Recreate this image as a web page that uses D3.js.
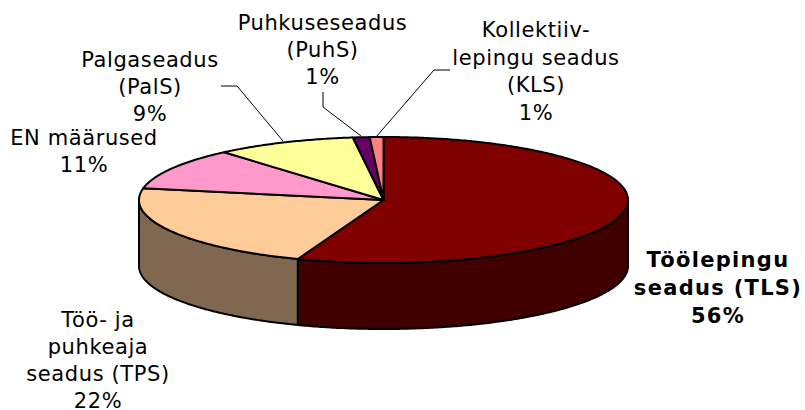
<!DOCTYPE html>
<html><head><meta charset="utf-8">
<script src="https://cdn.jsdelivr.net/npm/d3@7"></script>
<style>html,body{margin:0;padding:0;background:#fff}svg{display:block}text{font-family:"DejaVu Sans",sans-serif;font-size:21px;letter-spacing:.6px;fill:#000}</style>
</head><body><div id="c"></div>
<script>
const categories=["Töölepingu seadus (TLS)","Töö- ja puhkeaja seadus (TPS)","EN määrused","Palgaseadus (PalS)","Puhkuseseadus (PuhS)","Kollektiiv-lepingu seadus (KLS)"];
const values=[55.7,22.3,10.7,9.3,1.1,0.9];
const topColors=["#800000","#FFCC99","#FF99CC","#FFFF99","#660066","#FF8080"];
const sideColors=["#400000","#806850","#804C66","#80804C","#330033","#804040"];
const labelLines=[["Töölepingu","seadus (TLS)","56%"],["Töö- ja","puhkeaja","seadus (TPS)","22%"],["EN määrused","11%"],["Palgaseadus","(PalS)","9%"],["Puhkuseseadus","(PuhS)","1%"],["Kollektiiv-","lepingu seadus","(KLS)","1%"]];
const labelAnchors=[[718,267],[98,327],[84,145],[150,67],[322.5,30],[536,37]];
const lineSteps=[28,27,27,27,27,27.5];
const leaders=[null,null,null,[[221,86],[237,86],[283,141]],[[323,92],[323,107],[361,136]],[[450,70],[434,70],[376,137]]];
const W=805,H=410,depth=66;
const x=d3.scaleLinear().domain([-1,1]).range([139,628]);
const y=d3.scaleLinear().domain([-1,1]).range([137,263]);
const svg=d3.select("#c").append("svg").attr("width",W).attr("height",H);
const arcs=d3.pie().sort(null)(values);
const pt=(a,dy=0)=>[x(Math.sin(a)),y(-Math.cos(a))+dy];
const samples=(a0,a1,dy=0)=>{const n=Math.max(2,Math.ceil(Math.abs(a1-a0)/0.01));return d3.range(n+1).map(i=>pt(a0+(a1-a0)*i/n,dy));};
const line=d3.line();
arcs.forEach((d,i)=>{
  const a0=Math.max(d.startAngle,Math.PI/2),a1=Math.min(d.endAngle,3*Math.PI/2);
  if(a1<=a0)return;
  const p=samples(a0,a1).concat(samples(a1,a0,depth));
  svg.append("path").attr("d",line(p)+"Z").attr("fill",sideColors[i]).attr("stroke","#000").attr("stroke-width",2).attr("stroke-linejoin","round");
});
arcs.forEach((d,i)=>{
  const p=[[x(0),y(0)]].concat(samples(d.startAngle,d.endAngle));
  svg.append("path").attr("d",line(p)+"Z").attr("fill",topColors[i]).attr("stroke","#000").attr("stroke-width",2).attr("stroke-linejoin","round");
});
leaders.forEach(l=>{if(l)svg.append("path").attr("d",line(l)).attr("fill","none").attr("stroke","#000").attr("stroke-width",1);});
labelLines.forEach((ls,i)=>{
  const t=svg.append("text").attr("text-anchor","middle");
  if(i===0)t.attr("font-weight","bold").style("letter-spacing","1.3px");
  ls.forEach((s,j)=>t.append("tspan").attr("x",labelAnchors[i][0]).attr("y",labelAnchors[i][1]+j*lineSteps[i]).text(s));
});
</script></body></html>
